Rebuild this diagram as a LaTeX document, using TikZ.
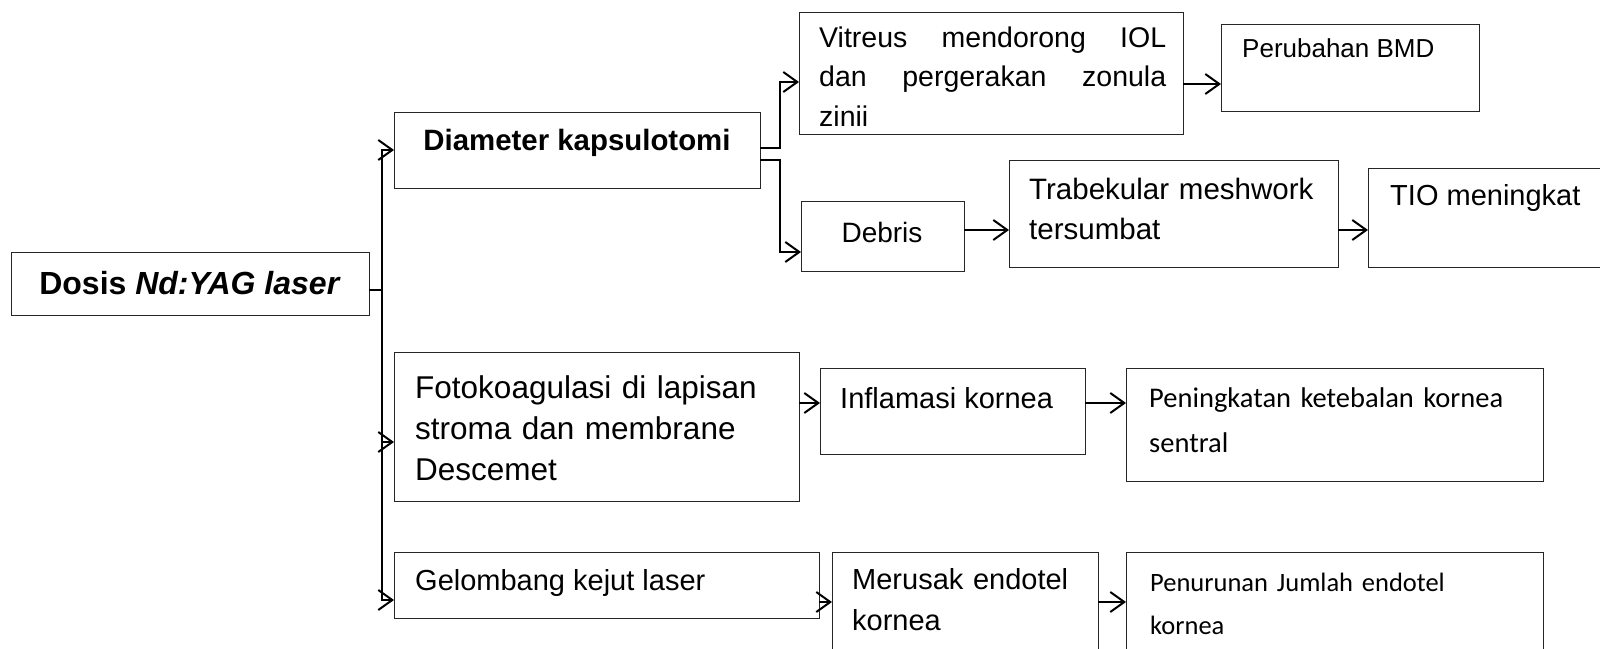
\documentclass[tikz,border=0pt]{standalone}
\usepackage{fontspec}
\setmainfont{Liberation Sans}
\newfontfamily\calibri{Carlito}
\usetikzlibrary{arrows.meta}
\tikzset{
  box/.style={draw=black!85, line width=1pt, inner sep=0pt, outer sep=0pt, anchor=north west},
  txt/.style={inner sep=0pt, anchor=base west, font=\fontsize{29pt}{40pt}\selectfont},
  multi/.style={text width=#1, align=left},
  link/.style={line width=2pt},
  conn/.style={line width=2pt, -{Straight Barb[length=14pt,width=20pt]}},
}

\begin{document}
\begin{tikzpicture}[x=1pt, y=-1pt]
	\useasboundingbox (0,0) rectangle (1600,648);
	\clip (0,0) rectangle (1600,648);
	% boxes
	\node[box, minimum width=358, minimum height=63] (dosis) at (11,252) {};
	\node[box, minimum width=366, minimum height=76] (diam) at (394,112) {};
	\node[box, minimum width=384, minimum height=122] (vit) at (799,12) {};
	\node[box, minimum width=258, minimum height=87] (bmd) at (1221,24) {};
	\node[box, minimum width=163, minimum height=70] (deb) at (801,201) {};
	\node[box, minimum width=329, minimum height=107] (trab) at (1009,160) {};
	\node[box, minimum width=260, minimum height=99] (tio) at (1368,168) {};
	\node[box, minimum width=405, minimum height=149] (foto) at (394,352) {};
	\node[box, minimum width=265, minimum height=86] (infl) at (820,368) {};
	\node[box, minimum width=417, minimum height=113] (tebal) at (1126,368) {};
	\node[box, minimum width=425, minimum height=66] (gel) at (394,552) {};
	\node[box, minimum width=266, minimum height=120] (endo) at (832,552) {};
	\node[box, minimum width=417, minimum height=120] (jml) at (1126,552) {};
	%
	% texts
	\node[txt, anchor=center, font=\bfseries\fontsize{32pt}{38pt}\selectfont] (dosis-t) at (dosis.center) {Dosis \textit{Nd:YAG laser}};
	\node[txt, anchor=base, font=\bfseries\fontsize{29.4pt}{38pt}\selectfont] (diam-t) at (577,150) {Diameter kapsulotomi};
	\node[txt, text width=347, align=justify, font=\fontsize{28.5pt}{39.5pt}\selectfont] (vit-t) at (819,47) {Vitreus mendorong IOL\linebreak dan pergerakan zonula\linebreak zinii};
	\node[txt, font=\fontsize{26pt}{36pt}\selectfont] (bmd-t) at (1242,57) {Perubahan BMD};
	\node[txt, anchor=base, font=\fontsize{28pt}{36pt}\selectfont] (deb-t) at (882,242) {Debris};
	\node[txt, multi=300, font=\fontsize{29.5pt}{40pt}\selectfont] (trab-t) at (1029,199) {Trabekular meshwork\\tersumbat};
	\node[txt] (tio-t) at (1390,205) {TIO meningkat};
	\node[txt, multi=380, font=\fontsize{31.5pt}{41pt}\selectfont] (foto-t) at (415,398) {Fotokoagulasi di lapisan\\stroma dan membrane\\Descemet};
	\node[txt] (infl-t) at (840,408) {Inflamasi kornea};
	\node[txt, multi=390, font=\calibri\fontsize{28.5pt}{45pt}\selectfont] (tebal-t) at (1149,407) {Peningkatan ketebalan kornea\\sentral};
	\node[txt] (gel-t) at (415,590) {Gelombang kejut laser};
	\node[txt, multi=240, font=\fontsize{29pt}{41pt}\selectfont] (endo-t) at (852,589) {Merusak endotel\\kornea};
	\node[txt, multi=390, font=\calibri\fontsize{26.5pt}{43pt}\selectfont] (jml-t) at (1150,591) {Penurunan Jumlah endotel\\kornea};
	%
	% connectors
	\draw [link] ([yshift=-6.5]dosis.east) -- ++(13,0) coordinate (trunk);
	\draw [conn] (trunk) |- (diam.west);
	\draw [conn] (trunk) |- ([yshift=-15.5]foto.west);
	\draw [conn] (trunk) |- ([yshift=-15]gel.west);
	\draw [conn] ([yshift=2]diam.east) -- ++(20,0) |- ([yshift=-9]vit.west);
	\draw [conn] ([yshift=-10]diam.east) -- ++(20,0) |- ([yshift=-16]deb.west);
	\draw [conn] ([yshift=-11]vit.east) -- ([yshift=-11]vit.east -| bmd.west);
	\draw [conn] ([yshift=6]deb.east) -- ([yshift=6]deb.east -| trab.west);
	\draw [conn] ([yshift=-16.5]trab.east) -- ([yshift=-16.5]trab.east -| tio.west);
	\draw [conn] ([yshift=8]infl.west -| foto.east) -- ([yshift=8]infl.west);
	\draw [conn] ([yshift=8]infl.east) -- ([yshift=8]infl.east -| tebal.west);
	\draw [conn] ([yshift=-17]gel.east) -- ([yshift=-17]gel.east -| endo.west);
	\draw [conn] ([yshift=10]endo.east) -- ([yshift=10]endo.east -| jml.west);
\end{tikzpicture}
\end{document}
